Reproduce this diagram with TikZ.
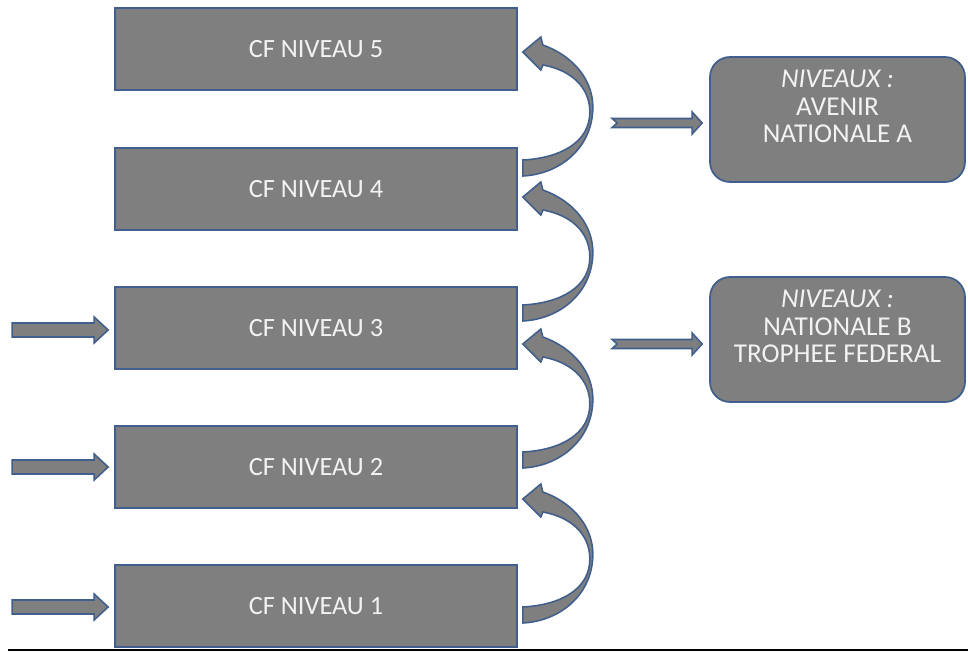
\documentclass[tikz,border=0pt]{standalone}
\usepackage{fontspec}
\setmainfont{Carlito}
\usetikzlibrary{calc}
\definecolor{boxgray}{RGB}{127,127,127}
\definecolor{edgeblue}{RGB}{65,95,140}
\definecolor{txtwhite}{RGB}{242,242,242}
\newcommand\curvedarrow[1]{%
  \draw[blockarrow, shift={(#1)}] (0,0) -- (18,-15) -- (20,-7)
    .. controls (53,5) and (70,30) .. (70,55)
    .. controls (70,95) and (38,122) .. (0,124) -- (0,108)
    .. controls (38,106) and (67,90) .. (67,60)
    .. controls (67,35) and (48,18) .. (20,13) -- (18,18) -- cycle;}
\newcommand\leftblockarrow[1]{%
  \draw[blockarrow, shift={(#1)}] (0,0) -- (-14,-13) -- (-14,-7) -- (-96,-7)
    -- (-96,7) -- (-14,7) -- (-14,13) -- cycle;}
\newcommand\notchedarrow[1]{%
  \draw[blockarrow, shift={(#1)}] (0,0) -- (-10,-11) -- (-10,-4.5) -- (-90,-4.5)
    -- (-85,0) -- (-90,4.5) -- (-10,4.5) -- (-10,11) -- cycle;}
\begin{document}
\begin{tikzpicture}[x=0.02cm,y=-0.02cm,
  lvl/.style={rectangle, fill=boxgray, draw=edgeblue, line width=1pt,
    minimum width=8.04cm, minimum height=1.64cm, text=txtwhite,
    font=\fontsize{15}{18}\selectfont, inner sep=0pt},
  rbox/.style={rectangle, rounded corners=0.4cm, fill=boxgray, draw=edgeblue,
    line width=1pt, minimum width=5.1cm, minimum height=2.5cm},
  rtext/.style={text=txtwhite, align=center,
    font=\fontsize{15.5}{15.6}\selectfont, inner sep=0pt},
  blockarrow/.style={fill=boxgray, draw=edgeblue, line width=0.9pt, line join=miter}]
\useasboundingbox (0,0) rectangle (968,652);

\node[lvl] (lv5) at (316,49)  {CF NIVEAU 5};
\node[lvl] (lv4) at (316,189) {CF NIVEAU 4};
\node[lvl] (lv3) at (316,328) {CF NIVEAU 3};
\node[lvl] (lv2) at (316,467) {CF NIVEAU 2};
\node[lvl] (lv1) at (316,606) {CF NIVEAU 1};

\node[rbox] (ra) at (837.5,119.5) {};
\node[rtext] (rat) at ($(ra.center)+(0,-13)$) {\textit{NIVEAUX :}\\AVENIR\\NATIONALE A};
\node[rbox] (rb) at (837.5,339.5) {};
\node[rtext] (rbt) at ($(rb.center)+(0,-13)$) {\textit{NIVEAUX :}\\NATIONALE B\\TROPHEE FEDERAL};

% curved arrows
\coordinate (t45) at ($(lv5.east)+(5,3)$);
\coordinate (t34) at ($(lv4.east)+(5,8)$);
\coordinate (t23) at ($(lv3.east)+(5,16)$);
\coordinate (t12) at ($(lv2.east)+(5,32)$);
\curvedarrow{t45}
\curvedarrow{t34}
\curvedarrow{t23}
\curvedarrow{t12}

% left arrows
\coordinate (la3) at ($(lv3.west)+(-6,2)$);
\coordinate (la2) at ($(lv2.west)+(-6,0)$);
\coordinate (la1) at ($(lv1.west)+(-6,1)$);
\leftblockarrow{la3}
\leftblockarrow{la2}
\leftblockarrow{la1}

% right notched arrows
\coordinate (na) at ($(ra.west)+(-7,3.5)$);
\coordinate (nb) at ($(rb.west)+(-7,4.5)$);
\notchedarrow{na}
\notchedarrow{nb}

% bottom rule
\coordinate (bl) at (8,650);
\coordinate (br) at (968,650);
\draw[black, line width=1.2pt] (bl) -- (br);
\end{tikzpicture}
\end{document}
